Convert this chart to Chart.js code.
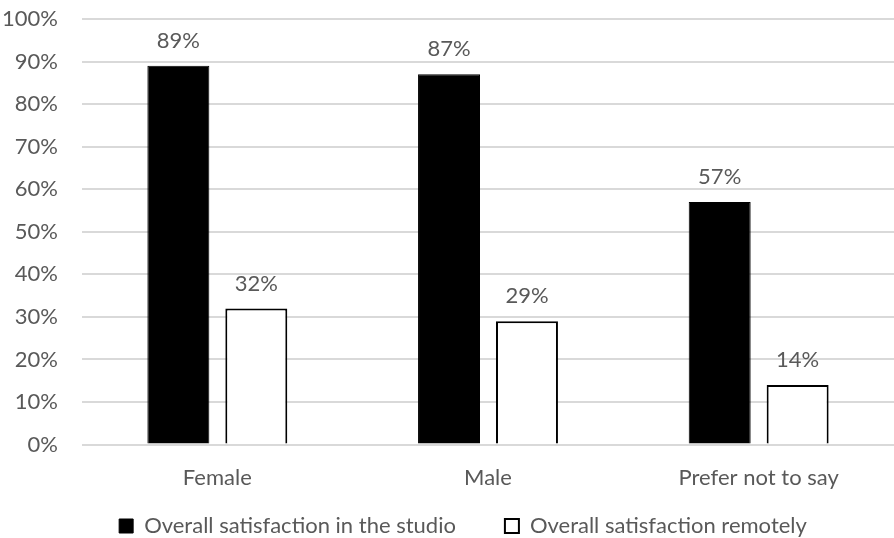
<!DOCTYPE html>
<html>
<head>
<meta charset="utf-8">
<script src="https://cdn.jsdelivr.net/npm/chart.js@4/dist/chart.umd.min.js"></script>
<style>
  html, body { margin: 0; padding: 0; background: #ffffff; }
  #wrap { width: 894px; height: 538px; position: relative; }
</style>
</head>
<body>
<div id="wrap"><canvas id="c" width="894" height="538"></canvas></div>
<script>
// Satisfaction by gender, in percent
const categories = ["Female", "Male", "Prefer not to say"];
const seriesNames = ["Overall satisfaction in the studio", "Overall satisfaction remotely"];
const studioValues = [89, 87, 57];
const remoteValues = [32, 29, 14];
const yTicks = [0, 10, 20, 30, 40, 50, 60, 70, 80, 90, 100];

const FONT = "Lato, 'Open Sans', sans-serif";
const SIZE = 22;
const TEXT = "#595959";
const LEGEND_GAP = 49;      // horizontal space between legend entries
const LEGEND_ROW_TOP = 515; // top of the legend row
const LEGEND_HEIGHT = 27;
const LEGEND_SHIFT = 16;    // legend sits a little right of the page centre

// Writes each bar's value just above it
const valueLabels = {
  id: "valueLabels",
  afterDatasetsDraw(chart) {
    const ctx = chart.ctx;
    ctx.save();
    ctx.font = SIZE + "px " + FONT;
    ctx.fillStyle = TEXT;
    ctx.textAlign = "center";
    ctx.textBaseline = "middle";
    chart.data.datasets.forEach((ds, di) => {
      chart.getDatasetMeta(di).data.forEach((bar, i) => {
        ctx.fillText(ds.data[i] + "%", bar.x, bar.y - 25);
      });
    });
    ctx.restore();
  }
};

// Wide spacing between legend entries while keeping the legend box short
const compactLegend = {
  id: "compactLegend",
  beforeLayout(chart) {
    const lg = chart.legend;
    if (lg && !lg._compactPatched) {
      const fit = lg.fit;
      lg.fit = function () {
        fit.call(this);
        this.height = LEGEND_HEIGHT;
      };
      const draw = lg.draw;
      lg.draw = function () {
        const top = this.top, left = this.left, right = this.right;
        this.top = LEGEND_ROW_TOP - LEGEND_GAP;
        this.left = left + LEGEND_SHIFT;
        this.right = right + LEGEND_SHIFT;
        draw.call(this);
        this.top = top;
        this.left = left;
        this.right = right;
      };
      lg._compactPatched = true;
    }
  }
};

new Chart(document.getElementById("c"), {
  type: "bar",
  data: {
    labels: categories,
    datasets: [
      {
        label: seriesNames[0],
        data: studioValues,
        backgroundColor: "#000000",
        borderColor: "#000000",
        borderWidth: 1,
        categoryPercentage: 0.576,
        barPercentage: 0.795
      },
      {
        label: seriesNames[1],
        data: remoteValues,
        backgroundColor: "#ffffff",
        borderColor: "#000000",
        borderWidth: 2,
        categoryPercentage: 0.576,
        barPercentage: 0.795
      }
    ]
  },
  options: {
    responsive: false,
    animation: false,
    layout: { padding: { top: 19, right: 0, bottom: 0, left: 0 } },
    plugins: {
      tooltip: { enabled: false },
      legend: {
        position: "bottom",
        labels: {
          font: { family: FONT, size: SIZE },
          color: TEXT,
          boxWidth: 14,
          boxHeight: 14,
          padding: LEGEND_GAP
        }
      }
    },
    scales: {
      x: {
        grid: { display: false, drawTicks: false },
        border: { display: false },
        ticks: { font: { family: FONT, size: SIZE }, color: TEXT, padding: 20 }
      },
      y: {
        min: 0,
        max: 100,
        afterBuildTicks(scale) {
          scale.ticks = yTicks.map(v => ({ value: v }));
        },
        afterFit(scale) {
          scale.width = 82;
          scale.paddingTop = 0;
          scale.paddingBottom = 0;
        },
        grid: { color: "#d9d9d9", lineWidth: 2, drawTicks: false },
        border: { display: false },
        ticks: {
          font: { family: FONT, size: SIZE },
          color: TEXT,
          padding: 24,
          callback: v => v + "%"
        }
      }
    }
  },
  plugins: [valueLabels, compactLegend]
});
</script>
</body>
</html>
